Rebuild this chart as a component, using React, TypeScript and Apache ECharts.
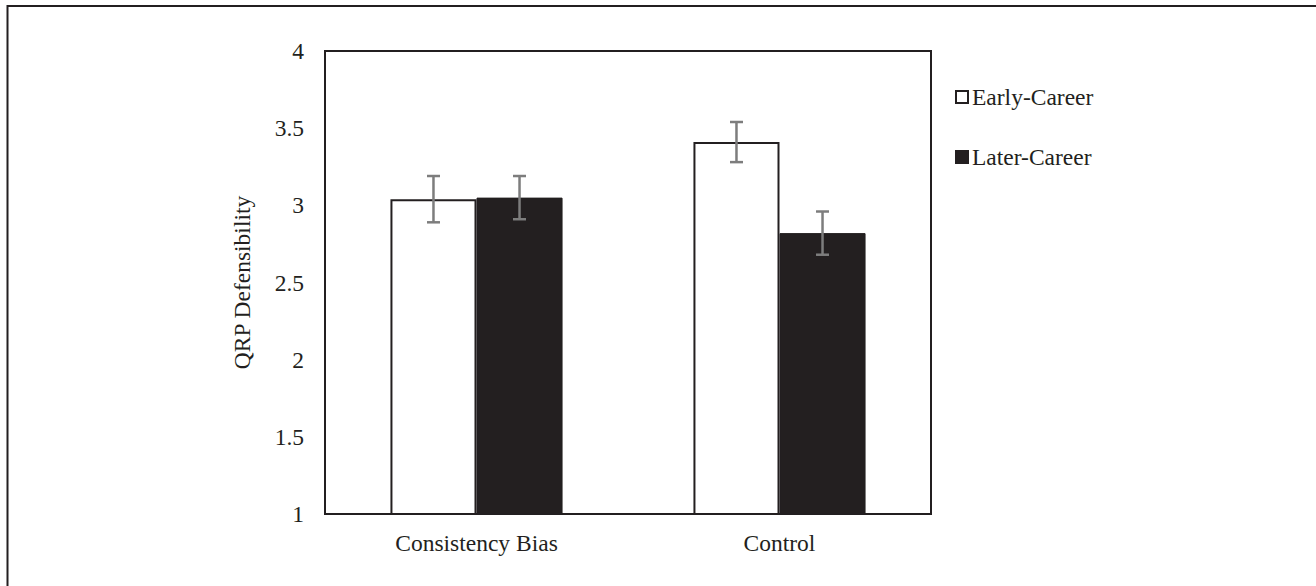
import React, { useEffect, useRef } from "react";
import * as echarts from "echarts";

const categories = ["Consistency Bias", "Control"];
const earlyCareer = [3.04, 3.41];
const laterCareer = [3.05, 2.82];
const earlyErr = [0.15, 0.13];
const laterErr = [0.14, 0.14];
const yTicks = { min: 1, max: 4, interval: 0.5 };

const INK = "#231f20";
const ERR = "#7d7d7d";
const FONT = "'Liberation Serif', 'Times New Roman', serif";
const FS = 23.5;
const BAR_FRAC = 0.284;

export default function App() {
  const ref = useRef<HTMLDivElement>(null);
  useEffect(() => {
    if (!ref.current) return;
    const chart = echarts.init(ref.current, null, { renderer: "svg" });
    const errData: any[] = [];
    categories.forEach((c, i) => {
      errData.push([i, earlyCareer[i], earlyErr[i], -1]);
      errData.push([i, laterCareer[i], laterErr[i], 1]);
    });
    chart.setOption({
      animation: false,
      backgroundColor: "#ffffff",
      textStyle: { fontFamily: FONT },
      grid: {
        left: 325,
        top: 51,
        right: 385,
        bottom: 72,
        show: true,
        borderColor: INK,
        borderWidth: 2,
        backgroundColor: "transparent",
      },
      legend: {
        orient: "vertical",
        left: 955,
        top: 85,
        padding: 0,
        itemWidth: 12,
        itemHeight: 12,
        itemGap: 36,
        icon: "rect",
        textStyle: { fontFamily: FONT, fontSize: FS, color: INK, lineHeight: 24, padding: [0, 0, 0, -1] },
        data: ["Early-Career", "Later-Career"],
      },
      xAxis: {
        type: "category",
        data: categories,
        axisTick: { show: false },
        axisLine: { show: true, lineStyle: { color: INK, width: 2 } },
        axisLabel: { fontFamily: FONT, fontSize: FS, color: INK, margin: 17 },
      },
      yAxis: {
        type: "value",
        min: yTicks.min,
        max: yTicks.max,
        interval: yTicks.interval,
        name: "QRP Defensibility",
        nameLocation: "middle",
        nameGap: 71,
        nameTextStyle: { fontFamily: FONT, fontSize: FS, color: INK },
        axisLine: { show: true, lineStyle: { color: INK, width: 2 } },
        axisTick: { show: false },
        splitLine: { show: false },
        axisLabel: { fontFamily: FONT, fontSize: FS, color: INK, margin: 21 },
      },
      series: [
        {
          name: "Early-Career",
          type: "bar",
          data: earlyCareer,
          barWidth: BAR_FRAC * 100 + "%",
          barGap: "0%",
          itemStyle: { color: "#ffffff", borderColor: INK, borderWidth: 2 },
        },
        {
          name: "Later-Career",
          type: "bar",
          data: laterCareer,
          barWidth: BAR_FRAC * 100 + "%",
          barGap: "0%",
          itemStyle: { color: INK, borderColor: INK, borderWidth: 1 },
        },
        {
          type: "custom",
          name: "err",
          data: errData,
          z: 10,
          renderItem: (params: any, api: any) => {
            const idx = api.value(0);
            const val = api.value(1);
            const e = api.value(2);
            const side = api.value(3);
            const band = api.size([1, 0])[0];
            const bw = band * BAR_FRAC;
            const center = api.coord([idx, val]);
            const x = center[0] + (side * bw) / 2;
            const yTop = api.coord([idx, val + e])[1];
            const yBot = api.coord([idx, val - e])[1];
            const cap = 6.5;
            const style = { stroke: ERR, lineWidth: 2.5 };
            return {
              type: "group",
              children: [
                { type: "line", shape: { x1: x, y1: yTop, x2: x, y2: yBot }, style },
                { type: "line", shape: { x1: x - cap, y1: yTop, x2: x + cap, y2: yTop }, style },
                { type: "line", shape: { x1: x - cap, y1: yBot, x2: x + cap, y2: yBot }, style },
              ],
            };
          },
        },
      ],
      graphic: [
        {
          type: "polyline",
          shape: { points: [[7.5, 586], [7.5, 6], [1316, 6]] },
          style: { stroke: INK, lineWidth: 2, fill: "none" },
          silent: true,
        },
      ],
    });
    return () => chart.dispose();
  }, []);
  return (
    <div
      ref={ref}
      style={{ position: "fixed", left: 0, top: 0, width: 1316, height: 586, background: "#fff" }}
    />
  );
}
